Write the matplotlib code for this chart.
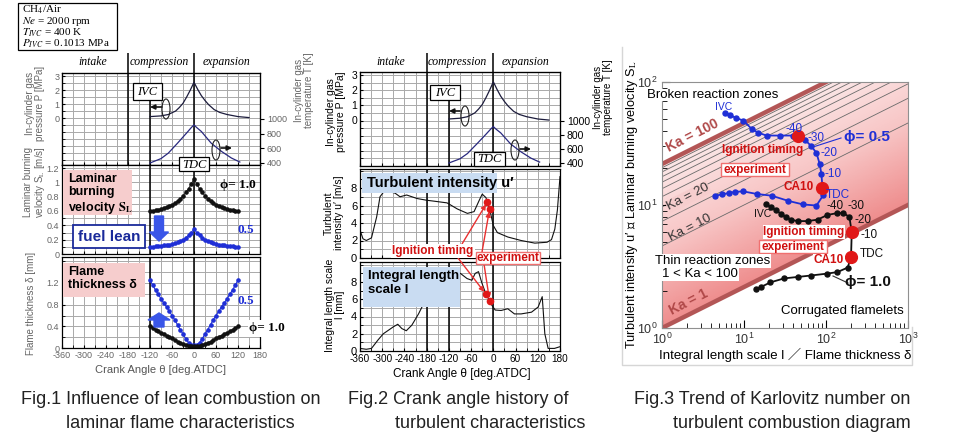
import numpy as np
import matplotlib
matplotlib.use('Agg')
import matplotlib.pyplot as plt
from matplotlib.patches import Rectangle, Ellipse, FancyArrow
from matplotlib.colors import LinearSegmentedColormap

plt.rcParams['font.family'] = ['Liberation Sans', 'DejaVu Sans', 'Noto Sans CJK JP']
plt.rcParams['mathtext.fontset'] = 'stix'
plt.rcParams['axes.unicode_minus'] = False

W, H = 962, 443

# ---- in-cylinder pressure / temperature (top panels of Fig.1 and Fig.2) ----
press_theta = [-120, -90, -70, -50, -40, -30, -20, -10, 0, 10, 20, 30, 40, 55, 70, 90, 120, 150]
press_mpa = [0.1, 0.15, 0.25, 0.5, 0.75, 1.05, 1.5, 2.0, 2.55, 2.05, 1.6, 1.25, 0.95, 0.6, 0.4, 0.25, 0.1, 0.03]
temp_theta = [-120, -90, -70, -45, -20, -7, 0, 7, 20, 47, 75, 102, 125]
temp_k = [400, 460, 535, 670, 810, 885, 920, 885, 830, 670, 558, 468, 413]

# ---- Fig.1 laminar flame, one value every 7.5 deg from IVC to +120 ----
lam_theta = np.arange(-120, 120.1, 7.5)
sl_phi10 = [0.60, 0.605, 0.61, 0.62, 0.63, 0.645, 0.66, 0.675, 0.69, 0.71, 0.74, 0.77, 0.81, 0.86, 0.91, 0.98, 1.05,
            0.98, 0.91, 0.86, 0.81, 0.77, 0.74, 0.71, 0.69, 0.675, 0.66, 0.645, 0.63, 0.62, 0.61, 0.605, 0.60]
sl_phi05 = [0.10, 0.10, 0.105, 0.11, 0.115, 0.12, 0.125, 0.13, 0.14, 0.15, 0.165, 0.18, 0.20, 0.23, 0.26, 0.30, 0.35,
            0.30, 0.26, 0.23, 0.20, 0.18, 0.165, 0.15, 0.14, 0.13, 0.125, 0.12, 0.115, 0.11, 0.105, 0.10, 0.10]
delta_phi10 = [0.40, 0.37, 0.34, 0.31, 0.28, 0.26, 0.23, 0.21, 0.18, 0.15, 0.12, 0.10, 0.08, 0.06, 0.04, 0.03, 0.03,
               0.03, 0.04, 0.06, 0.08, 0.10, 0.12, 0.15, 0.18, 0.21, 0.23, 0.26, 0.28, 0.31, 0.34, 0.37, 0.40]
delta_phi05 = [1.25, 1.16, 1.07, 0.99, 0.91, 0.83, 0.76, 0.68, 0.60, 0.52, 0.43, 0.34, 0.26, 0.17, 0.10, 0.06, 0.05,
               0.06, 0.10, 0.17, 0.26, 0.34, 0.43, 0.52, 0.60, 0.68, 0.76, 0.83, 0.91, 0.99, 1.07, 1.16, 1.25]

# ---- Fig.2 turbulence history ----
u_theta = [-360, -352, -343, -329, -315, -306, -297, -280, -265, -252, -234, -206, -180, -161, -125, -97, -70,
           -52, -38, -30, -20, -10, 0, 11, 39, 75, 112, 145, 157, 166, 173, 180]
u_prime = [3.2, 2.2, 2.0, 2.3, 4.7, 7.0, 7.5, 7.6, 7.4, 7.0, 7.2, 6.8, 6.6, 6.5, 6.3, 5.6, 5.1,
           5.3, 6.6, 7.3, 6.9, 5.6, 3.7, 2.9, 2.4, 2.0, 1.7, 1.8, 2.1, 3.3, 5.5, 9.3]
l_theta = [-360, -343, -329, -311, -297, -270, -258, -247, -235, -220, -202, -188, -160, -130, -105, -89, -71,
           -58, -49, -40, -31, -20, -10, -4, 5, 21, 39, 57, 75, 103, 121, 132, 139, 148, 165, 180]
l_scale = [0.3, 0.2, 0.3, 1.3, 2.0, 2.8, 3.1, 2.6, 2.35, 3.0, 4.3, 5.5, 7.0, 8.3, 8.9, 9.0, 8.4,
           8.2, 9.0, 9.2, 7.9, 6.6, 5.8, 5.3, 4.75, 4.7, 4.9, 4.3, 4.3, 4.5, 5.1, 6.3, 2.0, 0.3, 0.3, 0.5]
ign_u_theta, ign_u = [-16, -10], [6.4, 5.6]
ign_l_theta, ign_l = [-20, -10], [6.6, 5.8]

# ---- Fig.3 turbulent combustion diagram ----
ka_thin = [10, 20, 30, 40, 50, 60, 70, 80, 90]
ka_bold = [1, 100]
blue_x = [5.8, 6.8, 8.0, 9.8, 12.4, 15.0, 18.9, 27.5, 39.8, 45.5, 55, 66.5, 76.5, 84, 88, 90.6, 92.4,
          76.5, 52.7, 34.7, 21.8, 14.3, 9.8, 7.8, 6.5, 5.4, 4.45]
blue_y = [56, 53.7, 51, 48.6, 41.6, 38.6, 36.7, 36.7, 36.7, 36.7, 34, 30, 26.5, 21.4, 17.7, 13.8, 12.0,
          9.9, 10.1, 10.8, 11.9, 12.3, 12.9, 12.8, 12.5, 12.2, 11.9]
black_x = [18.4, 21.1, 24.4, 28.1, 32.4, 37.3, 45, 59.6, 78.8, 104, 138, 163, 193, 206, 202, 184, 138, 104,
           65, 45, 30.8, 21, 16, 14.2]
black_y = [10.1, 9.7, 9.1, 8.5, 8.0, 7.6, 7.4, 7.4, 7.6, 8.3, 8.6, 8.6, 8.0, 6.0, 3.8, 3.1, 2.85, 2.77,
           2.67, 2.6, 2.53, 2.35, 2.15, 2.08]
blue_labels = {0: 'IVC', 9: '-40', 10: '-30', 12: '-20', 14: '-10', 16: 'TDC'}
black_labels = {0: 'IVC', 10: '-40', 11: '-30', 12: '-20', 13: '-10', 14: 'TDC'}
blue_red = [9, 15]
black_red = [13, 14]

BLUE = '#1f2fd6'
RED = '#e01818'
PINK = '#f6cdcd'
LIGHTBLUE = '#c9dcf2'

fig = plt.figure(figsize=(W / 100, H / 100), dpi=100)


def px_axes(x0, y0, x1, y1):
    return fig.add_axes([x0 / W, 1 - y1 / H, (x1 - x0) / W, (y1 - y0) / H])


def lims(v_a, y_a, v_b, y_b, top, bottom):
    # value range of an axis spanning pixel rows top..bottom, from two known tick rows
    k = (v_b - v_a) / (y_a - y_b)
    return v_a - (bottom - y_a) * k, v_a + (y_a - top) * k


def crank_panel(box, ylim, ystep, yticks, tcol, tsize, bold):
    ax = px_axes(*box)
    ax.set_xlim(-360, 180)
    ax.set_ylim(*ylim)
    ax.set_xticks(np.arange(-360, 181, 60))
    ax.set_xticks(np.arange(-360, 181, 30), minor=True)
    ax.set_yticks(np.arange(np.ceil(ylim[0] / ystep) * ystep, ylim[1], ystep), minor=True)
    ax.set_yticks(yticks)
    ax.set_yticklabels([f'{v:g}' for v in yticks])
    ax.grid(which='both', color='#a9a9a9', lw=0.7)
    ax.set_axisbelow(True)
    ax.tick_params(which='both', direction='in', length=2, labelsize=tsize, labelcolor=tcol, pad=2)
    ax.tick_params(axis='x', labelbottom=False)
    for x in bold:
        ax.axvline(x, color='k', lw=1.1, zorder=1.5)
    for s in ax.spines.values():
        s.set_linewidth(0.9)
    return ax


def header(x0, x1, cols):
    hd = px_axes(x0, 53, x1, 73)
    hd.set_xlim(-360, 180)
    hd.set_ylim(0, 1)
    hd.axis('off')
    for x in (-180, 0):
        hd.axvline(x, color='k', lw=1.1)
    for x, s in cols:
        hd.text(x, 0.55, s, ha='center', va='center', fontsize=8.5, style='italic',
                family=['Liberation Serif', 'DejaVu Serif'])


def top_panel(x0, x1, top, bottom, p_rows, t_rows, tcol, tsize, bold):
    ax = crank_panel((x0, top, x1, bottom), lims(0, p_rows[0], 3, p_rows[1], top, bottom), 0.5,
                     [0, 1, 2, 3], tcol, tsize, bold)
    ax.axvline(-120, ymax=(bottom - 100) / (bottom - top), color='k', lw=1.1, zorder=1.5)
    ax.plot(press_theta, press_mpa, color='#1c1c3c', lw=0.9)
    tw = ax.twinx()
    tw.set_ylim(*lims(400, t_rows[0], 1000, t_rows[1], top, bottom))
    tw.set_yticks([400, 600, 800, 1000])
    tw.tick_params(direction='out', length=3, labelsize=tsize, labelcolor=tcol, pad=2)
    tw.plot(temp_theta, temp_k, color='#28287e', lw=0.9)
    return ax


# ================= Fig.1 =================
header(62, 260, [(-275, 'intake'), (-95, 'compression'), (90, 'expansion')])
a1 = top_panel(62, 260, 73, 165, (118, 76), (163, 119), '#666666', 6.5, [-180, 0])

a2 = crank_panel((62, 165, 260, 254), lims(0, 254, 1.2, 168, 165, 254), 0.1,
                 [0, 0.2, 0.4, 0.6, 0.8, 1, 1.2], '#666666', 6.5, [-120, 0])
a2.plot(lam_theta, sl_phi10, color='#111111', lw=0.6, marker='o', ms=2.3)
a2.plot(lam_theta, sl_phi05, color=BLUE, lw=0.6, marker='o', ms=2.3)

a3 = crank_panel((62, 257, 260, 348), lims(0, 348, 1.2, 283, 257, 348), 0.2,
                 [0, 0.4, 0.8, 1.2], '#666666', 6.5, [-120, 0])
a3.plot(lam_theta, delta_phi05, color=BLUE, lw=0.8, marker='o', ms=2.3)
a3.plot(lam_theta, delta_phi10, color='#111111', lw=0.8, marker='o', ms=2.3)
a3.tick_params(axis='x', labelbottom=True, pad=2.5, labelsize=6.5)

# ================= Fig.2 =================
header(360, 560, [(-276, 'intake'), (-97, 'compression'), (87, 'expansion')])
b1 = top_panel(360, 560, 72, 166, (120.5, 75), (163, 121), 'black', 7.5, [-180, 0])

b2 = crank_panel((360, 169, 560, 258), lims(0, 258, 8, 188, 169, 258), 1,
                 [0, 2, 4, 6, 8], 'black', 8, [-180, -120, 0])
b2.plot(u_theta, u_prime, color='#111111', lw=0.8)
b2.plot(ign_u_theta, ign_u, 'o', color=RED, ms=4.5, zorder=4)

b3 = crank_panel((360, 262, 560, 351), lims(0, 351, 8, 282, 262, 351), 1,
                 [0, 2, 4, 6, 8], 'black', 8, [-180, -120, 0])
b3.plot(l_theta, l_scale, color='#111111', lw=0.8)
b3.plot(ign_l_theta, ign_l, 'o', color=RED, ms=4.5, zorder=4)
b3.tick_params(axis='x', labelbottom=True, pad=2.5, labelsize=7.2)

# ================= Fig.3 =================
c = px_axes(662, 82, 908, 328)
c.set_xscale('log')
c.set_yscale('log')
c.set_xlim(1, 1000)
c.set_ylim(1, 100)
gx = np.logspace(0, 3, 400)
gy = np.logspace(0, 2, 300)
GX, GY = np.meshgrid(gx, gy)
ka = GY ** 1.5 / np.sqrt(GX)
shade = np.ma.masked_where((ka < 1) | (ka > 100), np.log10(ka) / 2)
ka_cmap = LinearSegmentedColormap.from_list('ka', ['#ee8c8c', '#f7c4c4', '#fbe8e8'])
c.pcolormesh(gx, gy, shade, cmap=ka_cmap, vmin=0, vmax=1, shading='auto', rasterized=True, zorder=0)
kx = np.logspace(0, 3, 60)
for k in ka_thin:
    c.plot(kx, k ** (2 / 3) * kx ** (1 / 3), color='#6a6a6a', lw=0.6, zorder=1)
for k in ka_bold:
    c.plot(kx, k ** (2 / 3) * kx ** (1 / 3), color='#b35656', lw=3.2, zorder=2)

c.plot(blue_x, blue_y, color=BLUE, lw=1.3, marker='o', ms=3.6, zorder=4)
c.plot(black_x, black_y, color='#111111', lw=1.3, marker='o', ms=3.6, zorder=4)
c.plot([blue_x[i] for i in blue_red], [blue_y[i] for i in blue_red], 'o', color=RED, ms=8.5, zorder=5)
c.plot([black_x[i] for i in black_red], [black_y[i] for i in black_red], 'o', color=RED, ms=8.5, zorder=5)

blue_off = {0: (-1, 4.5), 9: (-3, 5), 10: (2, 1), 12: (3, 0), 14: (2, 0), 16: (2, 0)}
black_off = {0: (-2, -7), 10: (-2, 5), 11: (3, 5), 12: (4, -2), 13: (6, -2), 14: (6, 2)}
for i, s in blue_labels.items():
    c.annotate(s, (blue_x[i], blue_y[i]), xytext=blue_off[i], textcoords='offset points',
               ha='center' if i in (0, 9) else 'left', va='center', fontsize=8.5 if i else 7.5,
               color=BLUE, zorder=6)
for i, s in black_labels.items():
    c.annotate(s, (black_x[i], black_y[i]), xytext=black_off[i], textcoords='offset points',
               ha='center' if i in (0, 10) else 'left', va='center', fontsize=8.5 if i else 7.5,
               color='#111111', zorder=6)

c.tick_params(which='both', direction='in', labelsize=9, labelcolor='#333333', pad=3)
c.tick_params(which='major', length=6)
c.tick_params(which='minor', length=3.5)
for s in c.spines.values():
    s.set_color('#909090')

# ================= overlay (pixel coordinates) =================
ov = fig.add_axes([0, 0, 1, 1])
ov.set_xlim(0, W)
ov.set_ylim(H, 0)
ov.axis('off')


def tag(x0, y0, x1, y1, fc, ec='none', lw=0.9):
    ov.add_patch(Rectangle((x0, y0), x1 - x0, y1 - y0, fc=fc, ec=ec, lw=lw, zorder=3))


def ring_arrow(cx, cy, x_from, x_to, y):
    ov.add_patch(Ellipse((cx, cy), 8, 20, fill=False, ec='#222222', lw=0.8, zorder=4))
    ov.annotate('', xy=(x_to, y), xytext=(x_from, y),
                arrowprops=dict(arrowstyle='-|>', color='#111111', lw=1.2, mutation_scale=7, shrinkA=0, shrinkB=0))


serif = ['Liberation Serif', 'DejaVu Serif']

# condition box
tag(18, 3, 117, 50, 'white', 'black')
cond_lines = ['CH$_4$/Air', '$Ne$ = 2000 rpm', '$T_{IVC}$ = 400 K', '$P_{IVC}$ = 0.1013 MPa']
for i, s in enumerate(cond_lines):
    ov.text(22, 10 + i * 11.4, s, family=serif, fontsize=8, va='center', zorder=4)

# IVC / TDC tags and curve markers
for (x0, y0, x1, y1, s) in [(133, 83, 162, 100, 'IVC'), (179, 157, 209, 171, 'TDC'),
                            (430, 85, 460, 100, 'IVC'), (474, 152, 505, 166, 'TDC')]:
    tag(x0, y0, x1, y1, 'white', 'black')
    ov.text((x0 + x1) / 2, (y0 + y1) / 2 + 0.5, s, ha='center', va='center', style='italic',
            family=serif, fontsize=9, zorder=4)
ring_arrow(166, 109, 162, 150, 107)
ring_arrow(216, 150, 221, 232, 148)
ring_arrow(465, 116, 460, 449, 111)
ring_arrow(515, 150, 520, 531, 149)

# Fig.1 labels
tag(63, 170, 132, 215, PINK)
ov.text(68, 173, 'Laminar\nburning\nvelocity $\\mathbf{S}_\\mathbf{L}$', va='top', fontsize=9,
        fontweight='bold', linespacing=1.15, zorder=4)
tag(73, 225, 145, 248, 'white', '#1a2a9a', 1.3)
ov.text(109, 236.5, 'fuel lean', ha='center', va='center', color='#1a2a9a', fontsize=11,
        fontweight='bold', zorder=4)
ov.add_patch(FancyArrow(159, 216, 0, 25, width=9, head_width=19, head_length=9,
                        length_includes_head=True, color='#3a56e8', zorder=4))
ov.text(238, 185, 'ϕ= 1.0', ha='center', va='center', family=serif, fontsize=9.5, fontweight='bold', zorder=4)
ov.text(246, 230, '0.5', ha='center', va='center', family=serif, fontsize=9.5, fontweight='bold',
        color=BLUE, zorder=4)
tag(63, 263, 145, 297, PINK)
ov.text(68, 266, 'Flame\nthickness δ', va='top', fontsize=9, fontweight='bold', linespacing=1.15, zorder=4)
ov.add_patch(FancyArrow(159, 327, 0, -14, width=10, head_width=22, head_length=7,
                        length_includes_head=True, color='#3a56e8', zorder=4))
ov.text(246, 301, '0.5', ha='center', va='center', family=serif, fontsize=9.5, fontweight='bold',
        color=BLUE, zorder=4)
tag(248, 320, 286, 337, 'white')
ov.text(267, 328.5, 'ϕ= 1.0', ha='center', va='center', family=serif, fontsize=9.5, fontweight='bold', zorder=4)

gray = '#666666'
ov.text(35, 103, 'In-cylinder gas\npressure P [MPa]', rotation=90, ha='center', va='center',
        fontsize=7, color=gray, linespacing=1.0)
ov.text(35, 182, 'Laminar burning\nvelocity S$_\\mathrm{L}$ [m/s]', rotation=90, ha='center', va='center',
        fontsize=7, color=gray, linespacing=1.0)
ov.text(31, 303, 'Flame thickness δ [mm]', rotation=90, ha='center', va='center', fontsize=7, color=gray)
ov.text(304, 90, 'In-cylinder gas\ntemperature T [K]', rotation=90, ha='center', va='center',
        fontsize=7, color=gray, linespacing=1.0)
ov.text(161, 370, 'Crank Angle θ [deg.ATDC]', ha='center', va='center', fontsize=8, color='#555555')

# Fig.2 labels
tag(362, 173, 497, 193, LIGHTBLUE)
ov.text(367, 183, 'Turbulent intensity u′', va='center', fontsize=10.5, fontweight='bold', zorder=4)
tag(363, 267, 460, 307, LIGHTBLUE)
ov.text(368, 270, 'Integral length\nscale l', va='top', fontsize=9.5, fontweight='bold',
        linespacing=1.2, zorder=4)
ov.text(336, 112, 'In-cylinder gas\npressure P [MPa]', rotation=90, ha='center', va='center',
        fontsize=7.5, linespacing=1.0)
ov.text(334, 213, 'Turbulent\nintensity u′ [m/s]', rotation=90, ha='center', va='center',
        fontsize=7.5, linespacing=1.0)
ov.text(335, 305, 'Integral length scale\nl [mm]', rotation=90, ha='center', va='center',
        fontsize=7.5, linespacing=1.0)
ov.text(603, 97, 'In-cylinder gas\ntemperature T [K]', rotation=90, ha='center', va='center',
        fontsize=7, linespacing=1.0)
ov.text(462, 374, 'Crank Angle θ [deg.ATDC]', ha='center', va='center', fontsize=8.5)

red_arrow = dict(arrowstyle='-|>', color='#e83030', lw=1.0, mutation_scale=7, shrinkA=0, shrinkB=2)
b2.annotate('', xy=(ign_u_theta[0], ign_u[0]), xytext=(462, 244), textcoords=ov.transData, arrowprops=red_arrow)
b2.annotate('', xy=(ign_u_theta[1], ign_u[1]), xytext=(482, 252), textcoords=ov.transData, arrowprops=red_arrow)
b3.annotate('', xy=(ign_l_theta[0], ign_l[0]), xytext=(458, 258), textcoords=ov.transData, arrowprops=red_arrow)
b3.annotate('', xy=(ign_l_theta[1], ign_l[1]), xytext=(484, 264), textcoords=ov.transData, arrowprops=red_arrow)
ov.text(433, 251, 'Ignition timing', ha='center', va='center', color='#d01010', fontsize=8.5,
        fontweight='bold', bbox=dict(fc='white', ec='none', pad=0.8), zorder=4)
tag(476, 252, 540, 264, 'white', '#f07070', 1.0)
ov.text(508, 258, 'experiment', ha='center', va='center', color='#d01010', fontsize=8.5,
        fontweight='bold', zorder=4)

# Fig.3 labels
ov.plot([622, 622, 912, 912], [47, 365, 365, 327], color='#d6d6d6', lw=1)
ov.text(632, 205, 'Turbulent intensity u′ ／ Laminar burning velocity S$_\\mathrm{L}$', rotation=90,
        ha='center', va='center', fontsize=9.2)
ov.text(785, 355, 'Integral length scale l ／ Flame thickness δ', ha='center', va='center', fontsize=9.5)
ov.text(647, 95, 'Broken reaction zones', va='center', fontsize=9.5,
        bbox=dict(fc='white', ec='none', pad=0.2), zorder=4)
ov.text(693, 136, 'Ka = 100', rotation=27, ha='center', va='center', color='#b04848', fontsize=10,
        fontweight='bold', bbox=dict(fc='white', ec='none', pad=0.5), zorder=4)
ov.text(688, 197, 'Ka = 20', rotation=27, ha='center', va='center', color='#333333', fontsize=9.5,
        bbox=dict(fc=PINK, ec='none', pad=0.3), zorder=4)
ov.text(690, 228, 'Ka = 10', rotation=27, ha='center', va='center', color='#333333', fontsize=9.5, zorder=4)
ov.text(689, 302, 'Ka = 1', rotation=27, ha='center', va='center', color='#b04848', fontsize=10,
        fontweight='bold', zorder=4)
ov.text(655, 261, 'Thin reaction zones', va='center', fontsize=9.5,
        bbox=dict(fc='white', ec='none', pad=0.5), zorder=4)
ov.text(700, 274, '1 < Ka < 100', ha='center', va='center', fontsize=9.5,
        bbox=dict(fc='white', ec='none', pad=0.5), zorder=4)
ov.text(842, 311, 'Corrugated flamelets', ha='center', va='center', fontsize=9.5,
        bbox=dict(fc='white', ec='none', pad=0.5), zorder=4)
for (x, y, bg) in [(763, 150, None), (804, 232, 'white')]:
    ov.text(x, y, 'Ignition timing', ha='center', va='center', color='#d01010', fontsize=8.5,
            fontweight='bold', zorder=4,
            bbox=dict(fc=bg, ec='none', pad=0.5) if bg else None)
for (x0, y0, x1, y1) in [(721, 163, 789, 176), (759, 240, 827, 253)]:
    tag(x0, y0, x1, y1, 'white', '#f07070', 1.0)
    ov.text((x0 + x1) / 2, (y0 + y1) / 2, 'experiment', ha='center', va='center', color='#d01010',
            fontsize=8.5, fontweight='bold', zorder=4)
ov.text(799, 187, 'CA10', ha='center', va='center', color='#d01010', fontsize=8.5, fontweight='bold', zorder=4)
ov.text(829, 260, 'CA10', ha='center', va='center', color='#d01010', fontsize=8.5, fontweight='bold',
        bbox=dict(fc='white', ec='none', pad=0.3), zorder=4)
ov.plot([841, 813], [138, 147], color=BLUE, lw=0.8)
ov.text(867, 137, 'ϕ= 0.5', ha='center', va='center', color=BLUE, fontsize=11, fontweight='bold', zorder=4)
ov.plot([848, 833], [283, 276], color='#333333', lw=0.8)
ov.text(868, 282, 'ϕ= 1.0', ha='center', va='center', color='#111111', fontsize=11, fontweight='bold', zorder=4)

# captions
cap = ['Liberation Sans Narrow', 'Liberation Sans', 'DejaVu Sans']
captions = [(171, 400, 'Fig.1 Influence of lean combustion on'), (180, 423, 'laminar flame characteristics'),
            (458, 400, 'Fig.2 Crank angle history of'), (490, 423, 'turbulent characteristics'),
            (772, 400, 'Fig.3 Trend of Karlovitz number on'), (792, 423, 'turbulent combustion diagram')]
for x, y, s in captions:
    ov.text(x, y, s, ha='center', va='center', family=cap, fontsize=13, color='#222222')

fig.savefig('out.png', dpi=100)
